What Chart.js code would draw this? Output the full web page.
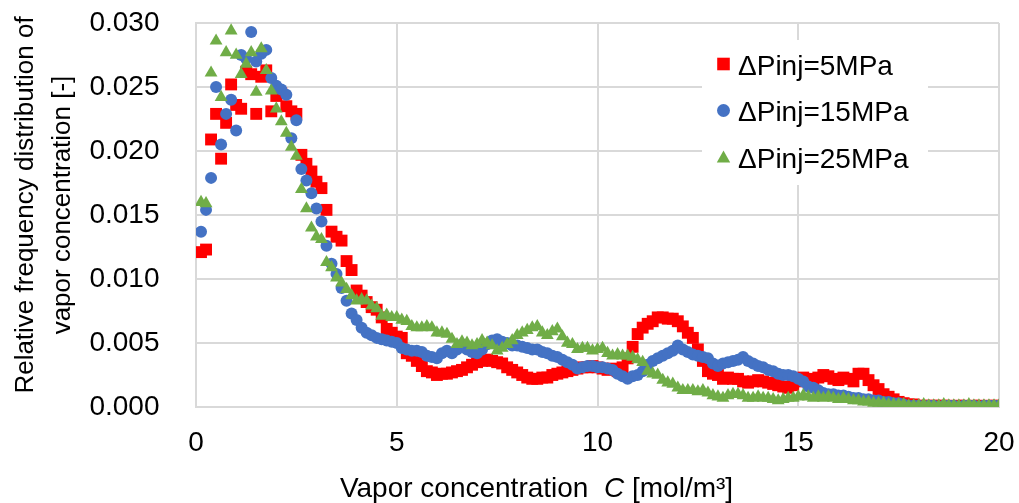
<!DOCTYPE html>
<html>
<head>
<meta charset="utf-8">
<script src="https://cdn.jsdelivr.net/npm/chart.js@4.4.1/dist/chart.umd.min.js"></script>
<style>
  html, body { margin: 0; padding: 0; background: #fff; }
  #wrap { width: 1019px; height: 503px; }
</style>
</head>
<body>
<div id="wrap"><canvas id="chart" width="1019" height="503"></canvas></div>
<script>
// bins of the concentration histogram (mol/m3)
const BIN_WIDTH = 0.125;
const seriesLabels = ['ΔPinj=5MPa', 'ΔPinj=15MPa', 'ΔPinj=25MPa'];
const xTickValues = [0, 5, 10, 15, 20];
const yTickValues = [0, 0.005, 0.010, 0.015, 0.020, 0.025, 0.030];

const freq5MPa = [
  .0121,.0123,.0209,.0229,.0194,.0222,.0252,.0236,.0233,.0262,
  .0260,.0229,.0258,.0263,.0231,.0243,.0245,.0235,.0231,.0229,
  .0197,.0190,.0184,.0176,.0171,.0154,.0137,.0133,.0130,.0114,
  .0107,.0091,.0087,.0082,.0078,.0076,.0070,.0061,.0058,.0055,
  .0054,.0042,.0040,.0036,.0032,.0028,.0027,.0025,.0026,.0026,
  .0027,.0028,.0029,.0031,.0033,.0035,.0036,.0037,.0036,.0035,
  .0034,.0031,.0029,.0027,.0025,.0023,.0022,.0022,.0023,.0023,
  .0025,.0026,.0027,.0028,.0029,.0030,.0031,.0031,.0032,.0031,
  .0030,.0029,.0030,.0028,.0031,.0038,.0047,.0057,.0062,.0065,
  .0067,.0070,.0070,.0069,.0069,.0067,.0063,.0058,.0054,.0045,
  .0036,.0028,.0026,.0025,.0022,.0023,.0022,.0022,.0020,.0019,
  .0020,.0021,.0020,.0019,.0018,.0017,.0016,.0015,.0017,.0020,
  .0023,.0022,.0020,.0023,.0025,.0024,.0022,.0021,.0023,.0022,
  .0020,.0026,.0026,.0021,.0017,.0014,.0010,.0008,.0006,.0004,
  .0003,.0002,.0002,.0001,.0001,.0001,.0001,.0001,.0001,.0001,
  .0000,.0001,.0001,.0000,.0001,.0001,.0000,.0001,.0001,.0001
];

const freq15MPa = [
  .0137,.0154,.0179,.0250,.0205,.0229,.0240,.0216,.0275,.0272,
  .0293,.0270,.0276,.0279,.0257,.0251,.0248,.0244,.0210,.0224,
  .0186,.0177,.0167,.0155,.0145,.0126,.0112,.0104,.0093,.0083,
  .0073,.0068,.0062,.0058,.0056,.0054,.0053,.0052,.0051,.0050,
  .0046,.0045,.0044,.0044,.0043,.0040,.0039,.0038,.0042,.0044,
  .0042,.0045,.0049,.0045,.0043,.0042,.0045,.0049,.0052,.0053,
  .0051,.0050,.0048,.0048,.0047,.0046,.0045,.0045,.0043,.0042,
  .0040,.0039,.0037,.0035,.0033,.0030,.0031,.0032,.0032,.0031,
  .0031,.0030,.0029,.0026,.0024,.0022,.0024,.0025,.0028,.0033,
  .0036,.0038,.0040,.0042,.0044,.0048,.0045,.0043,.0041,.0040,
  .0039,.0038,.0034,.0032,.0034,.0035,.0036,.0037,.0039,.0036,
  .0034,.0032,.0031,.0029,.0028,.0026,.0025,.0025,.0024,.0022,
  .0020,.0016,.0015,.0013,.0011,.0010,.0010,.0009,.0009,.0008,
  .0007,.0007,.0006,.0006,.0005,.0005,.0004,.0004,.0003,.0003,
  .0002,.0001,.0001,.0001,.0000,.0001,.0001,.0000,.0001,.0001,
  .0001,.0000,.0001,.0001,.0001,.0000,.0001,.0001,.0001,.0001
];

const freq25MPa = [
  .0160,.0159,.0261,.0286,.0242,.0277,.0294,.0275,.0260,.0268,
  .0277,.0246,.0280,.0263,.0247,.0233,.0223,.0214,.0203,.0196,
  .0170,.0155,.0140,.0133,.0131,.0113,.0109,.0101,.0097,.0092,
  .0087,.0083,.0084,.0083,.0079,.0077,.0071,.0072,.0070,.0070,
  .0068,.0067,.0063,.0062,.0062,.0063,.0062,.0058,.0058,.0057,
  .0053,.0049,.0051,.0050,.0048,.0049,.0052,.0050,.0048,.0044,
  .0046,.0049,.0052,.0056,.0058,.0060,.0062,.0063,.0058,.0056,
  .0059,.0061,.0055,.0050,.0049,.0045,.0046,.0046,.0044,.0045,
  .0046,.0042,.0040,.0041,.0040,.0040,.0039,.0037,.0035,.0028,
  .0026,.0025,.0021,.0019,.0018,.0015,.0013,.0013,.0013,.0012,
  .0013,.0011,.0009,.0008,.0007,.0009,.0010,.0010,.0009,.0007,
  .0007,.0008,.0007,.0007,.0006,.0005,.0006,.0007,.0007,.0008,
  .0009,.0008,.0007,.0008,.0007,.0008,.0007,.0006,.0007,.0006,
  .0005,.0005,.0004,.0004,.0003,.0003,.0003,.0002,.0002,.0002,
  .0002,.0001,.0001,.0001,.0002,.0001,.0001,.0001,.0002,.0001,
  .0001,.0001,.0001,.0002,.0001,.0001,.0001,.0001,.0001,.0001
];

const binCenters = freq5MPa.map((_, i) => (i + 1) * BIN_WIDTH);

const FONT = '"Liberation Sans", Arial, sans-serif';
const GRID = '#d9d9d9';

function toPoints(values) {
  return values.map((v, i) => ({ x: binCenters[i], y: v }));
}

// legend inside the plot + axis titles (Excel style)
const decorations = {
  id: 'decorations',
  afterDraw(chart) {
    const ctx = chart.ctx;
    ctx.save();

    // legend box
    ctx.fillStyle = '#fff';
    ctx.fillRect(702, 40, 226, 145);
    chart.data.datasets.forEach((ds, i) => {
      const cy = 64 + i * 46.5;
      const cx = 723.5;
      ctx.fillStyle = ds.backgroundColor;
      ctx.beginPath();
      if (ds.pointStyle === 'rect') {
        ctx.rect(cx - 6.3, cy - 6.3, 12.6, 12.6);
      } else if (ds.pointStyle === 'circle') {
        ctx.arc(cx, cy, 6.5, 0, Math.PI * 2);
      } else {
        ctx.moveTo(cx, cy - 6.5);
        ctx.lineTo(cx + 6.7, cy + 5.5);
        ctx.lineTo(cx - 6.7, cy + 5.5);
        ctx.closePath();
      }
      ctx.fill();
      ctx.fillStyle = '#000';
      ctx.font = '28px ' + FONT;
      ctx.textAlign = 'left';
      ctx.textBaseline = 'alphabetic';
      ctx.fillText(ds.label, 738, 75 + i * 46.3);
    });

    // x axis title
    const parts = [
      { t: 'Vapor concentration  ', f: '28px ' + FONT },
      { t: 'C', f: 'italic 28px ' + FONT },
      { t: ' [mol/m³]', f: '28px ' + FONT }
    ];
    let total = 0;
    parts.forEach(p => { ctx.font = p.f; p.w = ctx.measureText(p.t).width; total += p.w; });
    let x = 536.5 - total / 2;
    ctx.fillStyle = '#000';
    ctx.textAlign = 'left';
    parts.forEach(p => { ctx.font = p.f; ctx.fillText(p.t, x, 497); x += p.w; });

    // y axis title (two lines)
    ctx.font = '26px ' + FONT;
    ctx.textAlign = 'center';
    [['Relative frequency distribution of', 33], ['vapor concentration [-]', 70]].forEach(([txt, bx]) => {
      ctx.save();
      ctx.translate(bx, 205);
      ctx.rotate(-Math.PI / 2);
      ctx.fillText(txt, 0, 0);
      ctx.restore();
    });

    ctx.restore();
  }
};

new Chart(document.getElementById('chart'), {
  type: 'scatter',
  data: {
    datasets: [
      {
        label: seriesLabels[0],
        data: toPoints(freq5MPa),
        pointStyle: 'rect',
        pointRadius: 8.4,
        backgroundColor: '#ff0000',
        borderColor: '#ff0000',
        borderWidth: 0,
        order: 3
      },
      {
        label: seriesLabels[1],
        data: toPoints(freq15MPa),
        pointStyle: 'circle',
        pointRadius: 6,
        backgroundColor: '#4472c4',
        borderColor: '#4472c4',
        borderWidth: 0,
        order: 2
      },
      {
        label: seriesLabels[2],
        data: toPoints(freq25MPa),
        pointStyle: 'triangle',
        pointRadius: 7.4,
        backgroundColor: '#70ad47',
        borderColor: '#70ad47',
        borderWidth: 0,
        order: 1
      }
    ]
  },
  options: {
    responsive: false,
    animation: false,
    devicePixelRatio: 1,
    layout: { padding: { top: 23, right: 20, left: 0, bottom: 0 } },
    plugins: {
      legend: { display: false },
      tooltip: { enabled: false }
    },
    scales: {
      x: {
        type: 'linear',
        min: 0,
        max: 20,
        afterBuildTicks: (s) => { s.ticks = xTickValues.map(v => ({ value: v })); },
        afterFit: (s) => { s.height = 96; s.paddingLeft = 0; s.paddingRight = 0; },
        grid: { color: GRID, lineWidth: 2, drawTicks: false },
        border: { color: GRID, width: 2 },
        ticks: {
          padding: 19,
          color: '#000',
          font: { family: FONT, size: 28 },
          maxRotation: 0,
          callback: (v) => String(v)
        }
      },
      y: {
        min: 0,
        max: 0.03,
        afterBuildTicks: (s) => { s.ticks = yTickValues.map(v => ({ value: v })); },
        afterFit: (s) => { s.width = 196; s.paddingTop = 0; s.paddingBottom = 0; },
        grid: { color: GRID, lineWidth: 2, drawTicks: false },
        border: { color: GRID, width: 2 },
        ticks: {
          padding: 36.5,
          color: '#000',
          font: { family: FONT, size: 28 },
          callback: (v) => v.toFixed(3)
        }
      }
    }
  },
  plugins: [decorations]
});
</script>
</body>
</html>
